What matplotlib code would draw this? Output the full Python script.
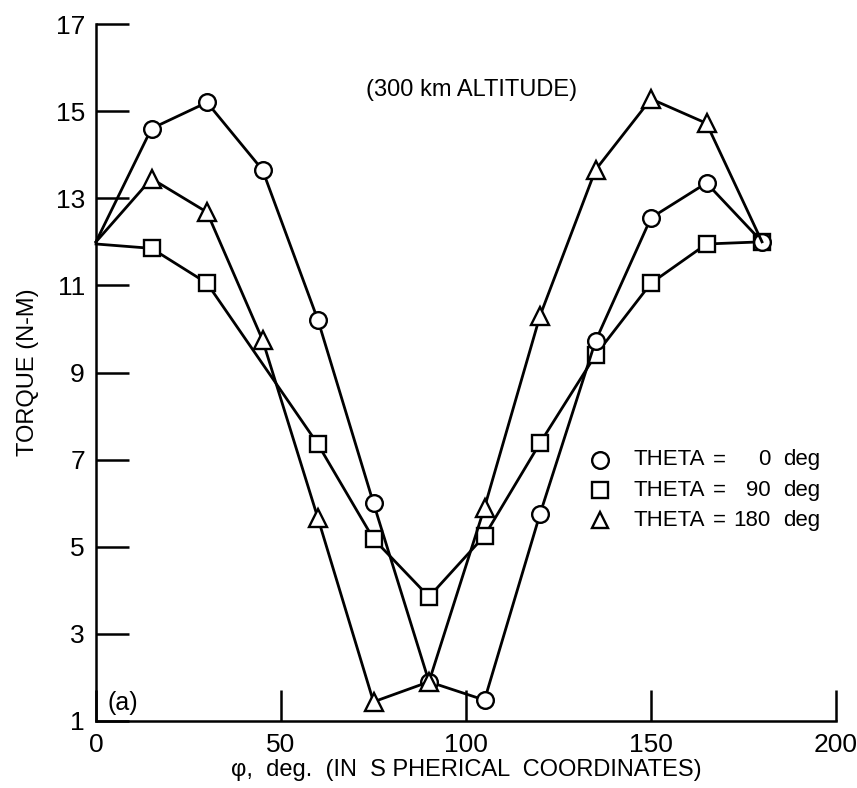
import matplotlib
matplotlib.use("Agg")
import matplotlib.pyplot as plt

plt.rcParams['font.family'] = ['Liberation Sans', 'DejaVu Sans']

# ---- data ----
phi = [0, 15, 30, 45, 60, 75, 90, 105, 120, 135, 150, 165, 180]
torque_theta0 = [12.0, 14.6, 15.2, 13.65, 10.2, 6.0, 1.9, 1.48, 5.75, 9.72, 12.55, 13.35, 12.0]
phi_theta90 = [0, 15, 30, 60, 75, 90, 105, 120, 135, 150, 165, 180]
torque_theta90 = [11.95, 11.85, 11.05, 7.35, 5.18, 3.85, 5.25, 7.38, 9.4, 11.05, 11.95, 12.0]
torque_theta180 = [12.0, 13.45, 12.68, 9.75, 5.65, 1.44, 1.9, 5.9, 10.3, 13.65, 15.28, 14.72, 12.0]

xticks = [0, 50, 100, 150, 200]
yticks = [1, 3, 5, 7, 9, 11, 13, 15, 17]
legend_values = ["0", "90", "180"]

fig = plt.figure(figsize=(8.57, 7.88), dpi=100)
ax = fig.add_axes([96/857, 1-721/788, 740/857, 697/788])

lw = 2.0
common = dict(color='black', lw=lw, markerfacecolor='white', markeredgecolor='black',
              markeredgewidth=1.7, clip_on=False)
ax.plot(phi_theta90, torque_theta90, marker='s', markersize=11.5,
        markevery=slice(1, None), zorder=3, **common)
ax.plot(phi, torque_theta0, marker='o', markersize=12, markevery=slice(1, None),
        zorder=4, **common)
ax.plot(phi, torque_theta180, marker='^', markersize=13, markevery=slice(1, -1),
        zorder=5, **common)

ax.set_xlim(0, 200)
ax.set_ylim(1, 17)
ax.set_xticks(xticks)
ax.set_yticks(yticks)
ax.tick_params(axis='both', direction='in', width=1.8, labelsize=19)
ax.tick_params(axis='y', length=24, pad=8)
ax.tick_params(axis='x', length=22, pad=9)
for s in ['top', 'right']:
    ax.spines[s].set_visible(False)
for s in ['left', 'bottom']:
    ax.spines[s].set_linewidth(1.8)

ax.set_ylabel('TORQUE (N-M)', fontsize=17, labelpad=12)
ax.set_xlabel('φ,  deg.  (IN  S PHERICAL  COORDINATES)', fontsize=17, labelpad=1)

ax.text(0.507, 0.905, '(300 km ALTITUDE)', transform=ax.transAxes, fontsize=17,
        ha='center', va='center')
ax.text(0.016, 0.026, '(a)', transform=ax.transAxes, fontsize=18,
        ha='left', va='center')

# legend (manual)
rows_y = [0.3745, 0.331, 0.288]
markers = ['o', 's', '^']
for yy, mk, val in zip(rows_y, markers, legend_values):
    ax.plot([0.681], [yy], marker=mk, markersize=12, markerfacecolor='white',
            markeredgecolor='black', markeredgewidth=1.7, transform=ax.transAxes,
            clip_on=False, linestyle='none')
    ax.text(0.726, yy, 'THETA', transform=ax.transAxes, fontsize=16, ha='left', va='center')
    ax.text(0.842, yy, '=', transform=ax.transAxes, fontsize=16, ha='center', va='center')
    ax.text(0.911, yy, val, transform=ax.transAxes, fontsize=16, ha='right', va='center')
    ax.text(0.928, yy, 'deg', transform=ax.transAxes, fontsize=16, ha='left', va='center')

fig.savefig('out.png', dpi=100)
